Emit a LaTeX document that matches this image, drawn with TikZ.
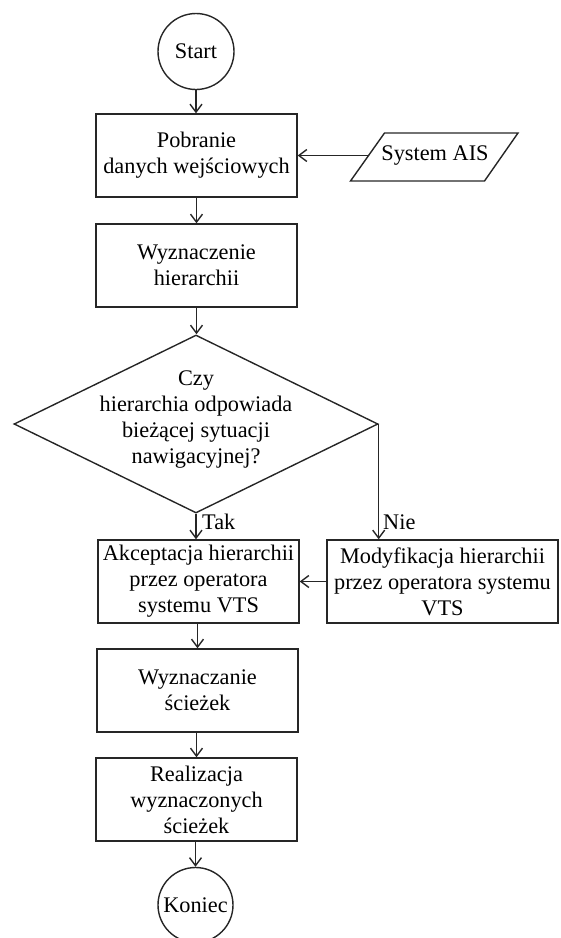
\documentclass[tikz,border=0pt]{standalone}
\usepackage{fontspec}
\setmainfont{Liberation Serif}
\usetikzlibrary{shapes.geometric,arrows.meta}
\tikzset{
  every node/.style={font=\fontsize{22.3}{26}\selectfont},
  line/.style={draw=black!85, line width=1.4pt},
  flow/.style={line, -{Straight Barb[length=8pt,width=12pt]}},
  procbox/.style={line, rectangle, minimum width=201pt, minimum height=83pt, align=center, inner sep=0pt},
  term/.style={line, circle, minimum size=76pt, inner sep=0pt},
  lbl/.style={anchor=west, inner sep=0pt}
}
\begin{document}
\begin{tikzpicture}[x=1pt,y=-1pt]
\useasboundingbox (0,0) rectangle (561,938);
\node[term] (start) at (196,51.5) {Start};
\node[procbox] (in1) at (196.5,155.5) {Pobranie\\danych wejściowych};
\node[inner sep=0pt] (ais) at (435,156) {System AIS};
\coordinate (aisBL) at (350.5,181);
\coordinate (aisBR) at (484.5,181);
\coordinate (aisTR) at (518,133);
\coordinate (aisTL) at (384.5,133);
\coordinate (aisW) at (368.5,155.5);
\draw[line] (aisBL) -- (aisBR) -- (aisTR) -- (aisTL) -- cycle;
\node[procbox] (hier) at (196.5,265.5) {Wyznaczenie\\hierarchii};
\node[line, diamond, minimum width=364pt, minimum height=178pt, inner sep=0pt] (dec) at (196,424) {};
\node[align=center, inner sep=0pt] (dectext) at (196,420) {Czy\\hierarchia odpowiada\\bieżącej sytuacji\\nawigacyjnej?};
\node[procbox] (acc) at (198.5,581.5) {Akceptacja hierarchii\\przez operatora\\systemu VTS};
\node[procbox, minimum width=231pt] (mod) at (442.5,581.5) {Modyfikacja hierarchii\\przez operatora systemu\\VTS};
\node[procbox] (paths) at (197.5,690.5) {Wyznaczanie\\ścieżek};
\node[procbox] (real) at (196.5,799.5) {Realizacja\\wyznaczonych\\ścieżek};
\node[term, minimum size=75pt] (end) at (195.5,905) {Koniec};

\draw[flow] (start) -- (start |- in1.north);
\draw[flow] (aisW) -- (in1.east |- aisW);
\draw[flow] (in1) -- (hier);
\draw[flow] (hier.south) -- (hier.south |- dec.north);
\draw[flow] (dec.south) -- (dec.south |- acc.north);
\node[lbl] (tak) at (202,522) {Tak};
\draw[flow] (dec.east) -- (dec.east |- mod.north);
\node[lbl] (nie) at (383,522) {Nie};
\draw[flow] (mod.west) -- (acc.east);
\draw[flow] (acc.south -| paths.north) -- (paths.north);
\draw[flow] (paths.south -| real.north) -- (real.north);
\draw[flow] (real.south -| end.north) -- (end.north);
\end{tikzpicture}
\end{document}
